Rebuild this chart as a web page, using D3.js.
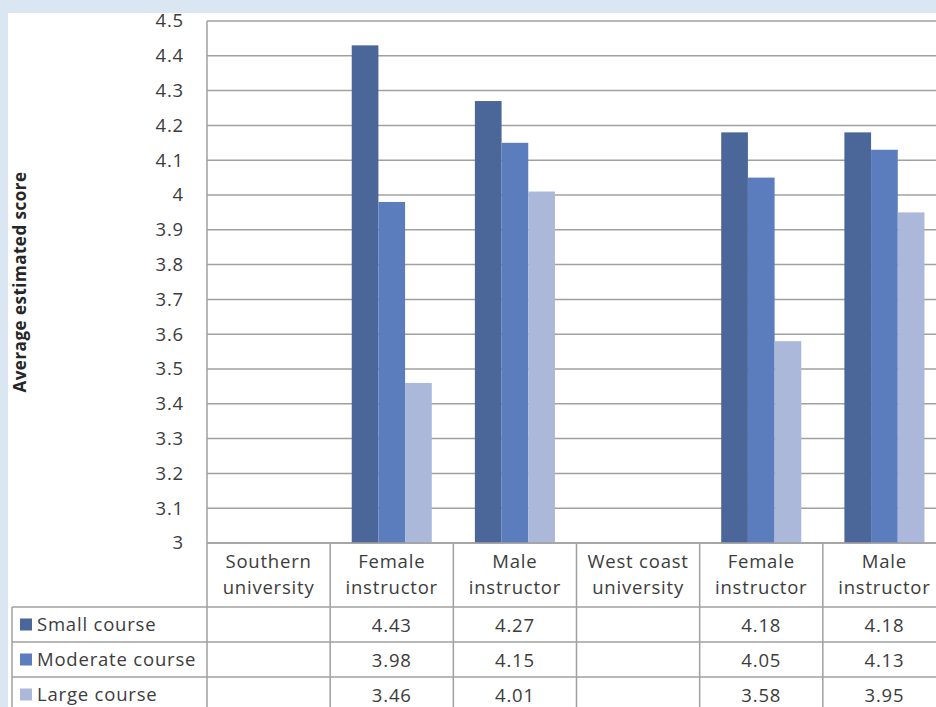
<!DOCTYPE html>
<html>
<head>
<meta charset="utf-8">
<script src="https://cdn.jsdelivr.net/npm/d3@7/dist/d3.min.js"></script>
<style>
  html, body { margin: 0; padding: 0; background: #dbe6f3; }
  svg { display: block; }
</style>
</head>
<body>
<svg id="chart" width="936" height="707"></svg>
<script>
// Categories along the x axis (two text lines each)
const categories = [
  ["Southern", "university"],
  ["Female", "instructor"],
  ["Male", "instructor"],
  ["West coast", "university"],
  ["Female", "instructor"],
  ["Male", "instructor"]
];
const seriesNames = ["Small course", "Moderate course", "Large course"];
const smallCourse    = [null, 4.43, 4.27, null, 4.18, 4.18];
const moderateCourse = [null, 3.98, 4.15, null, 4.05, 4.13];
const largeCourse    = [null, 3.46, 4.01, null, 3.58, 3.95];
const yTicks = [3, 3.1, 3.2, 3.3, 3.4, 3.5, 3.6, 3.7, 3.8, 3.9, 4, 4.1, 4.2, 4.3, 4.4, 4.5];
const seriesColors = ["#4b6699", "#5b7dbd", "#abb8d9"];

const series = [smallCourse, moderateCourse, largeCourse];
const svg = d3.select("#chart");
const font = "'Open Sans', sans-serif";
const fontSize = 18.5;
const spacing = 0.8;
const textColor = "#3c3c3c";
const lineColor = "#a0a0a0";

// white panel
svg.append("rect").attr("x", 8).attr("y", 13).attr("width", 936).attr("height", 707).attr("fill", "#fff");

const plotLeft = 207, plotRight = 946, plotTop = 21, plotBottom = 543;
const tableLeft = 12;
const rowLines = [607, 642, 677, 712];

const x = d3.scaleBand().domain(d3.range(categories.length)).range([plotLeft, plotRight])
  .paddingInner(0.35).paddingOuter(0.175);
const xSub = d3.scaleBand().domain(d3.range(series.length)).range([0, x.bandwidth()]);
const y = d3.scaleLinear().domain([3, 4.5]).range([plotBottom, plotTop]);

function styleText(sel) {
  return sel.attr("font-family", font).attr("font-size", fontSize)
    .attr("letter-spacing", spacing).attr("fill", textColor);
}

// gridlines
svg.append("g").selectAll("line").data(yTicks).join("line")
  .attr("x1", plotLeft).attr("x2", plotRight)
  .attr("y1", d => y(d)).attr("y2", d => y(d))
  .attr("stroke", lineColor).attr("stroke-width", 1.5);

// y axis tick labels
const yAxis = d3.axisLeft(y).tickValues(yTicks).tickSize(0).tickPadding(23)
  .tickFormat(d3.format("~g"));
const ya = svg.append("g").attr("transform", `translate(${plotLeft},0)`).call(yAxis);
ya.select(".domain").remove();
styleText(ya.selectAll("text"));

// bars
series.forEach((vals, si) => {
  svg.append("g").selectAll("rect").data(vals.map((v, i) => ({ v, i })).filter(d => d.v != null))
    .join("rect")
    .attr("x", d => x(d.i) + xSub(si))
    .attr("width", xSub.bandwidth())
    .attr("y", d => y(d.v))
    .attr("height", d => y(3) - y(d.v))
    .attr("fill", seriesColors[si]);
});

// vertical axis line and category separators
const sepX = d3.range(categories.length + 1).map(i => plotLeft + i * x.step());
svg.append("g").selectAll("line").data(sepX).join("line")
  .attr("x1", d => d).attr("x2", d => d)
  .attr("y1", (d, i) => i === 0 ? plotTop : plotBottom).attr("y2", rowLines[rowLines.length - 1])
  .attr("stroke", lineColor).attr("stroke-width", 1.5);

// table horizontal lines
svg.append("line").attr("x1", plotLeft).attr("x2", plotRight).attr("y1", plotBottom).attr("y2", plotBottom)
  .attr("stroke", lineColor).attr("stroke-width", 1.5);
svg.append("g").selectAll("line").data(rowLines).join("line")
  .attr("x1", tableLeft).attr("x2", plotRight).attr("y1", d => d).attr("y2", d => d)
  .attr("stroke", lineColor).attr("stroke-width", 1.5);
svg.append("line").attr("x1", tableLeft).attr("x2", tableLeft)
  .attr("y1", rowLines[0]).attr("y2", rowLines[rowLines.length - 1])
  .attr("stroke", lineColor).attr("stroke-width", 1.5);

// category labels
const cat = styleText(svg.append("g").selectAll("text").data(categories).join("text"))
  .attr("text-anchor", "middle");
cat.append("tspan").attr("x", (d, i) => x(i) + x.bandwidth() / 2).attr("y", 568).text(d => d[0]);
cat.append("tspan").attr("x", (d, i) => x(i) + x.bandwidth() / 2).attr("y", 594).text(d => d[1]);

// data table rows
series.forEach((vals, si) => {
  const rowMid = (rowLines[si] + rowLines[si + 1]) / 2;
  svg.append("rect").attr("x", 20).attr("y", rowMid - 6).attr("width", 12).attr("height", 12)
    .attr("fill", seriesColors[si]);
  styleText(svg.append("text")).attr("x", 37).attr("y", rowMid + 6.5)
    .text(seriesNames[si]);
  styleText(svg.append("g").selectAll("text").data(vals.map((v, i) => ({ v, i })).filter(d => d.v != null))
    .join("text"))
    .attr("x", d => x(d.i) + x.bandwidth() / 2).attr("y", rowMid + 7)
    .attr("text-anchor", "middle")
    .text(d => d3.format(".2f")(d.v));
});

// y axis title
svg.append("text")
  .attr("transform", `translate(26,${(plotTop + plotBottom) / 2}) rotate(-90)`)
  .attr("text-anchor", "middle")
  .attr("font-family", font).attr("font-size", 17).attr("font-weight", "bold")
  .attr("letter-spacing", 0.5).attr("fill", "#262626")
  .text("Average estimated score");
</script>
</body>
</html>
